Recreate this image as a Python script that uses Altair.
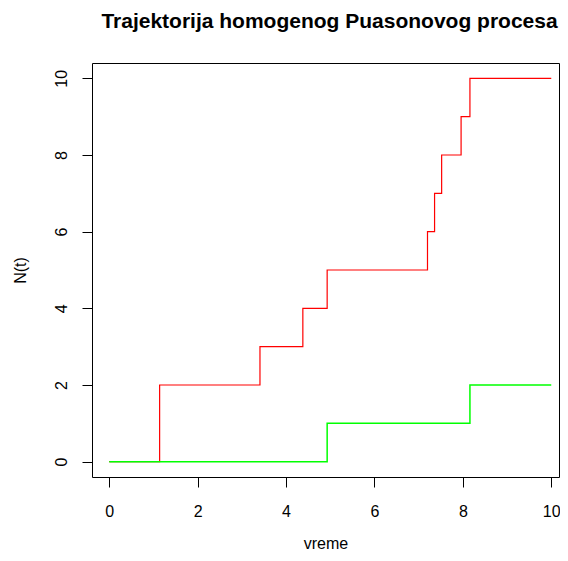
import altair as alt
import pandas as pd

# Red trajectory (jump times and counts)
red_t = [0.0, 1.14, 3.41, 4.38, 4.93, 7.20, 7.36, 7.52, 7.96, 8.16, 10.0]
red_n = [0, 2, 3, 4, 5, 6, 7, 8, 9, 10, 10]
# Green trajectory
green_t = [0.0, 4.93, 8.16, 10.0]
green_n = [0, 1, 2, 2]

x_ticks = [0, 2, 4, 6, 8, 10]
y_ticks = [0, 2, 4, 6, 8, 10]

red_df = pd.DataFrame({"t": red_t, "n": red_n})
green_df = pd.DataFrame({"t": green_t, "n": green_n})

FONT = "Liberation Sans"

xs = alt.X("t:Q",
           scale=alt.Scale(domain=[-0.39, 10.175], nice=False, zero=False),
           axis=alt.Axis(values=x_ticks, title="vreme", grid=False, domain=False,
                         tickSize=10, tickColor="black", labelPadding=16,
                         labelFontSize=16, labelColor="black", labelFont=FONT,
                         titleFont=FONT, titleFontSize=16, titleFontWeight="normal",
                         titleColor="black", titleBaseline="alphabetic", titleY=71,
                         labelFlush=False))
ys = alt.Y("n:Q",
           scale=alt.Scale(domain=[-0.4, 10.4], nice=False, zero=False),
           axis=alt.Axis(values=y_ticks, title="N(t)", grid=False, domain=False,
                         tickSize=10, tickColor="black", labelPadding=16,
                         labelAngle=270, labelAlign="center", labelBaseline="alphabetic",
                         labelFontSize=16, labelColor="black", labelFont=FONT,
                         titleFont=FONT, titleFontSize=16, titleFontWeight="normal",
                         titleColor="black", titleBaseline="alphabetic", titleX=-67,
                         titleY=207, titleAngle=270, labelFlush=False))

red = alt.Chart(red_df).mark_line(interpolate="step-after", color="#FF0000",
                                  strokeWidth=1.2, clip=True).encode(x=xs, y=ys)
green = alt.Chart(green_df).mark_line(interpolate="step-after", color="#00FF00",
                                      strokeWidth=1.5, clip=True).encode(x=xs, y=ys)

chart = alt.layer(red, green).properties(
    width=467, height=414,
    title=alt.TitleParams("Trajektorija homogenog Puasonovog procesa",
                          font=FONT, fontSize=21, fontWeight="bold", color="black",
                          anchor="middle", baseline="alphabetic", offset=14, dx=4),
    autosize=alt.AutoSizeParams(type="none"),
    padding={"left": 84, "top": 55, "right": 1, "bottom": 76},
).configure_view(stroke="black", strokeWidth=1)

chart.save("out.html", embed_options={"renderer": "svg", "actions": False})
